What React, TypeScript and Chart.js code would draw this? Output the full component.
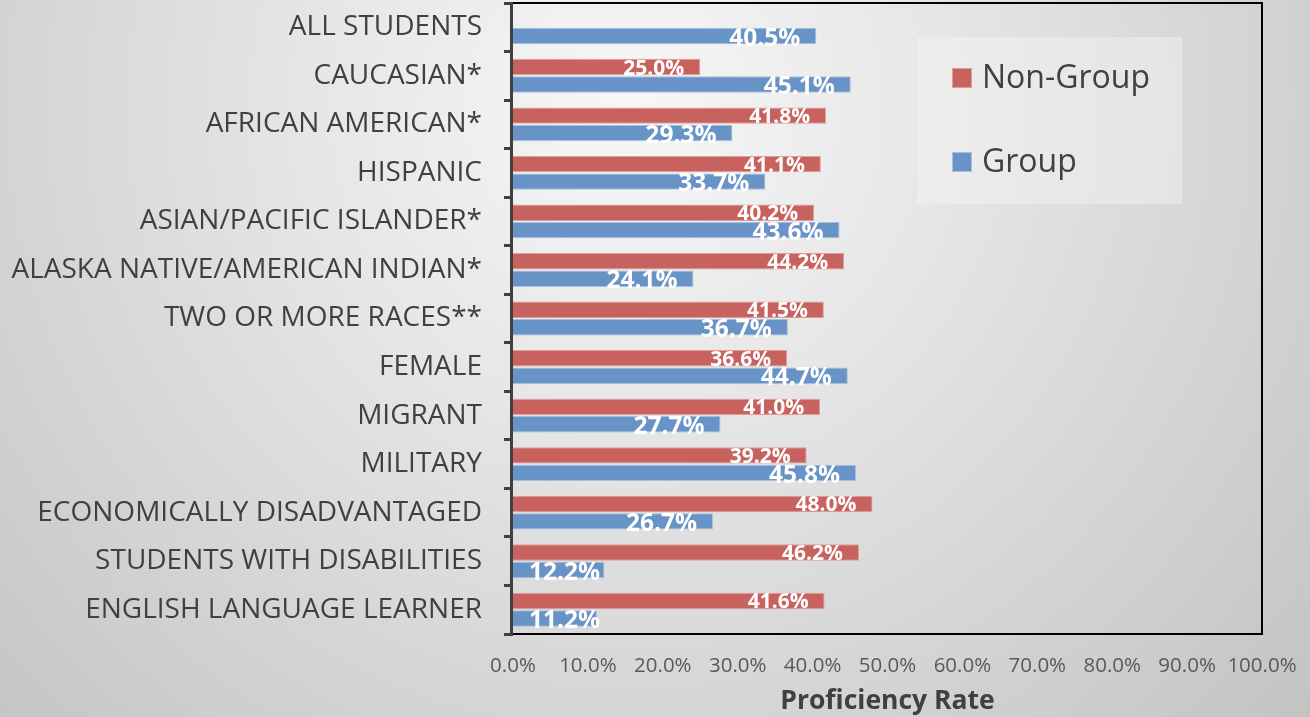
import React, { useEffect, useRef } from "react";
import { Chart, registerables } from "chart.js";

Chart.register(...registerables);

const categories = [
  "ALL STUDENTS",
  "CAUCASIAN*",
  "AFRICAN AMERICAN*",
  "HISPANIC",
  "ASIAN/PACIFIC ISLANDER*",
  "ALASKA NATIVE/AMERICAN INDIAN*",
  "TWO OR MORE RACES**",
  "FEMALE",
  "MIGRANT",
  "MILITARY",
  "ECONOMICALLY DISADVANTAGED",
  "STUDENTS WITH DISABILITIES",
  "ENGLISH LANGUAGE LEARNER",
];

const nonGroup: (number | null)[] = [null, 25.0, 41.8, 41.1, 40.2, 44.2, 41.5, 36.6, 41.0, 39.2, 48.0, 46.2, 41.6];
const group: number[] = [40.5, 45.1, 29.3, 33.7, 43.6, 24.1, 36.7, 44.7, 27.7, 45.8, 26.7, 12.2, 11.2];

const seriesNames = ["Non-Group", "Group"];
const xTicks = { min: 0, max: 100, step: 10 };
const axisTitle = "Proficiency Rate";

const RED = "#C8625F";
const RED_BORDER = "#DE9D9B";
const BLUE = "#6893C6";
const BLUE_BORDER = "#A6C0E0";
const FONT = "'Open Sans', sans-serif";

const overlayPlugin = {
  id: "overlay",
  afterDraw(chart: any) {
    const { ctx, chartArea } = chart;
    const { left, right, top, bottom } = chartArea;
    ctx.save();
    // plot frame
    ctx.strokeStyle = "#000000";
    ctx.lineWidth = 2;
    ctx.beginPath();
    ctx.moveTo(left, top);
    ctx.lineTo(right, top);
    ctx.lineTo(right, bottom);
    ctx.lineTo(left, bottom);
    ctx.stroke();
    // left axis line
    ctx.strokeStyle = "#404040";
    ctx.lineWidth = 3;
    ctx.beginPath();
    ctx.moveTo(left - 1.5, top - 1);
    ctx.lineTo(left - 1.5, bottom + 1);
    ctx.stroke();

    // data labels
    ctx.fillStyle = "#FFFFFF";
    ctx.textAlign = "left";
    ctx.textBaseline = "alphabetic";
    chart.data.datasets.forEach((ds: any, di: number) => {
      const meta = chart.getDatasetMeta(di);
      const size = di === 0 ? 21 : 24.5;
      const dy = di === 0 ? 7.5 : 9.7;
      ctx.font = `bold ${size}px ${FONT}`;
      meta.data.forEach((bar: any, i: number) => {
        const v = ds.data[i];
        if (v === null || v === undefined) return;
        const txt = v.toFixed(1) + "%";
        const w = ctx.measureText(txt).width;
        let x = bar.x - 16 - w;
        if (x < left + 16) x = left + 16;
        ctx.fillText(txt, x, bar.y + dy);
      });
    });

    // legend
    const lx = 917, ly = 37, lw = 265, lh = 167;
    ctx.fillStyle = "rgba(245,245,245,0.45)";
    ctx.fillRect(lx, ly, lw, lh);
    const items = [
      { name: seriesNames[0], fill: RED, border: RED_BORDER, cy: 78 },
      { name: seriesNames[1], fill: BLUE, border: BLUE_BORDER, cy: 162 },
    ];
    ctx.font = `32px ${FONT}`;
    ctx.textBaseline = "middle";
    items.forEach((it) => {
      ctx.fillStyle = it.fill;
      ctx.fillRect(952, it.cy - 10, 20, 20);
      ctx.strokeStyle = it.border;
      ctx.lineWidth = 1;
      ctx.strokeRect(952.5, it.cy - 9.5, 19, 19);
      ctx.fillStyle = "#404040";
      ctx.fillText(it.name, 982, it.cy + 1);
    });
    ctx.restore();
  },
};

export default function App() {
  const canvasRef = useRef<HTMLCanvasElement | null>(null);

  useEffect(() => {
    document.body.style.margin = "0";
    const canvas = canvasRef.current;
    if (!canvas) return;
    const chart = new Chart(canvas, {
      type: "bar",
      data: {
        labels: categories,
        datasets: [
          {
            label: seriesNames[0],
            data: nonGroup,
            backgroundColor: RED,
            borderColor: RED_BORDER,
            borderWidth: 1,
            categoryPercentage: 0.72,
            barPercentage: 0.94,
          },
          {
            label: seriesNames[1],
            data: group,
            backgroundColor: BLUE,
            borderColor: BLUE_BORDER,
            borderWidth: 1,
            categoryPercentage: 0.72,
            barPercentage: 0.94,
          },
        ],
      },
      options: {
        indexAxis: "y",
        responsive: false,
        animation: false,
        devicePixelRatio: 1,
        layout: { padding: { top: 3, right: 48, left: 0, bottom: 0 } },
        plugins: {
          legend: { display: false },
          tooltip: { enabled: false },
        },
        scales: {
          y: {
            type: "category",
            grid: {
              display: true,
              drawOnChartArea: false,
              drawTicks: true,
              tickLength: 9,
              tickWidth: 3,
              tickColor: "#404040",
              offset: true,
            },
            border: { display: false },
            ticks: {
              color: "#404040",
              font: { family: FONT, size: 28 },
              padding: 22,
              autoSkip: false,
            },
            afterFit(scale: any) {
              scale.width = 513;
              scale.paddingTop = 0;
              scale.paddingBottom = 0;
            },
          },
          x: {
            type: "linear",
            min: xTicks.min,
            max: xTicks.max,
            grid: { display: false },
            border: { display: false },
            ticks: {
              stepSize: xTicks.step,
              color: "#595959",
              font: { family: FONT, size: 20.5 },
              padding: 12,
              maxRotation: 0,
              callback: (v: any) => Number(v).toFixed(1) + "%",
            },
            title: {
              display: true,
              text: axisTitle,
              color: "#404040",
              font: { family: FONT, size: 26.5, weight: "bold" },
              padding: { top: 4, bottom: 0 },
            },
            afterFit(scale: any) {
              scale.height = 83;
              scale.paddingLeft = 0;
              scale.paddingRight = 0;
            },
          },
        },
      },
      plugins: [overlayPlugin],
    });
    return () => chart.destroy();
  }, []);

  return (
    <div
      style={{
        width: 1310,
        height: 717,
        background:
          "radial-gradient(circle farthest-corner at 48% 15%, #f7f7f7 0%, #e6e6e6 35%, #c3c3c3 100%)",
      }}
    >
      <canvas ref={canvasRef} width={1310} height={717} style={{ display: "block" }} />
    </div>
  );
}
